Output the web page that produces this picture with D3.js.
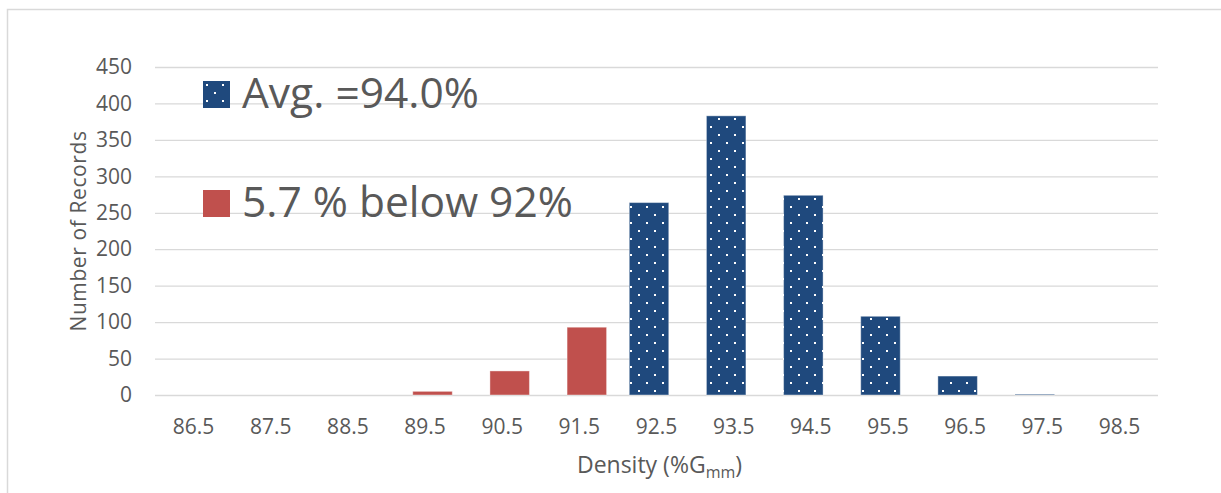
<!DOCTYPE html>
<html>
<head>
<meta charset="utf-8">
<script src="https://cdn.jsdelivr.net/npm/d3@7"></script>
<style>
  body { margin: 0; background: #fff; }
  text { font-family: "Open Sans", sans-serif; fill: #595959; }
</style>
</head>
<body>
<div id="chart"></div>
<script>
// density bins (%Gmm)
var categories = ["86.5", "87.5", "88.5", "89.5", "90.5", "91.5", "92.5", "93.5", "94.5", "95.5", "96.5", "97.5", "98.5"];
// records below 92% (red) and at/above 92% (blue, dotted)
var belowValues = [0, 0, 0, 5, 33, 93, 0, 0, 0, 0, 0, 0, 0];
var aboveValues = [0, 0, 0, 0, 0, 0, 264, 383, 274, 108, 26, 1, 0];
var yTicks = [0, 50, 100, 150, 200, 250, 300, 350, 400, 450];
var legendLabels = ["Avg. =94.0%", "5.7 % below 92%"];

var W = 1221, H = 493;
var margin = {top: 67, right: 63, bottom: 98, left: 155}
  , width = W - margin.left - margin.right
  , height = H - margin.top - margin.bottom;

var blue = "#1F497D", red = "#C0504D", grid = "#d9d9d9";

var svg = d3.select("#chart").append("svg")
    .attr("width", W)
    .attr("height", H);

// dotted fill used by the blue series
var pat = svg.append("defs").append("pattern")
    .attr("id", "dots")
    .attr("patternUnits", "userSpaceOnUse")
    .attr("width", 16).attr("height", 16);
pat.append("rect").attr("width", 16).attr("height", 16).attr("fill", blue);
pat.append("rect").attr("x", 3).attr("y", 3).attr("width", 2).attr("height", 2).attr("fill", "#fff");
pat.append("rect").attr("x", 11).attr("y", 11).attr("width", 2).attr("height", 2).attr("fill", "#fff");

// outer chart frame (only left and top edges are in view)
svg.append("path")
    .attr("d", "M7.5," + (H + 5) + "V9.5H" + (W + 5))
    .attr("fill", "none")
    .attr("stroke", grid)
    .attr("stroke-width", 1.5);

var g = svg.append("g")
    .attr("transform", "translate(" + margin.left + "," + margin.top + ")");

var xScale = d3.scaleBand()
    .domain(categories)
    .range([0, width]);

var yScale = d3.scaleLinear()
    .domain([0, 450])
    .range([height, 0]);

// y axis with gridlines
var yAxis = g.append("g")
    .attr("class", "y axis")
    .call(d3.axisLeft(yScale).tickValues(yTicks).tickSize(-width).tickPadding(23));
yAxis.select(".domain").remove();
yAxis.selectAll("line").attr("stroke", grid).attr("stroke-width", 1.3);
yAxis.selectAll("text").attr("font-size", 21).attr("fill", "#595959");

// x axis labels
var xAxis = g.append("g")
    .attr("class", "x axis")
    .attr("transform", "translate(0," + height + ")")
    .call(d3.axisBottom(xScale).tickSize(0).tickPadding(24));
xAxis.select(".domain").remove();
xAxis.selectAll("text").attr("font-size", 21).attr("fill", "#595959");

var barW = xScale.bandwidth() * 0.512;
var shift = xScale.bandwidth() * 0.097;

// blue series (dotted)
g.selectAll(".bar.above")
    .data(aboveValues)
  .enter().append("rect")
    .attr("class", "bar above")
    .attr("x", function(d, i) { return xScale(categories[i]) + xScale.bandwidth() / 2 - shift - barW / 2; })
    .attr("y", function(d) { return yScale(d); })
    .attr("width", barW)
    .attr("height", function(d) { return height - yScale(d); })
    .attr("fill", "url(#dots)")
    .attr("stroke", "#fff")
    .attr("stroke-opacity", function(d) { return d > 0 ? 0.4 : 0; })
    .attr("stroke-width", 1);

// red series
g.selectAll(".bar.below")
    .data(belowValues)
  .enter().append("rect")
    .attr("class", "bar below")
    .attr("x", function(d, i) { return xScale(categories[i]) + xScale.bandwidth() / 2 + shift - barW / 2; })
    .attr("y", function(d) { return yScale(d); })
    .attr("width", barW)
    .attr("height", function(d) { return height - yScale(d); })
    .attr("fill", red)
    .attr("stroke", "#fff")
    .attr("stroke-opacity", function(d) { return d > 0 ? 0.4 : 0; })
    .attr("stroke-width", 1);

// axis titles
svg.append("text")
    .attr("transform", "translate(86,231) rotate(-90)")
    .attr("text-anchor", "middle")
    .attr("font-size", 21)
    .attr("letter-spacing", 0.6)
    .text("Number of Records");

var xt = svg.append("text")
    .attr("x", margin.left + width / 2 + 3)
    .attr("y", 473)
    .attr("text-anchor", "middle")
    .attr("font-size", 23);
xt.append("tspan").text("Density (%G");
xt.append("tspan").attr("font-size", 16).attr("dy", 5).text("mm");
xt.append("tspan").attr("dy", -5).text(")");

// legend
var legend = svg.append("g").attr("transform", "translate(203,81)");
var swatch = ["url(#dots)", red];
legendLabels.forEach(function(lbl, i) {
  var row = legend.append("g").attr("transform", "translate(0," + (i * 109) + ")");
  row.append("rect")
      .attr("width", 27).attr("height", 27)
      .attr("fill", swatch[i]);
  row.append("text")
      .attr("x", 39)
      .attr("y", 27)
      .attr("font-size", 42.5)
      .text(lbl);
});
</script>
</body>
</html>
